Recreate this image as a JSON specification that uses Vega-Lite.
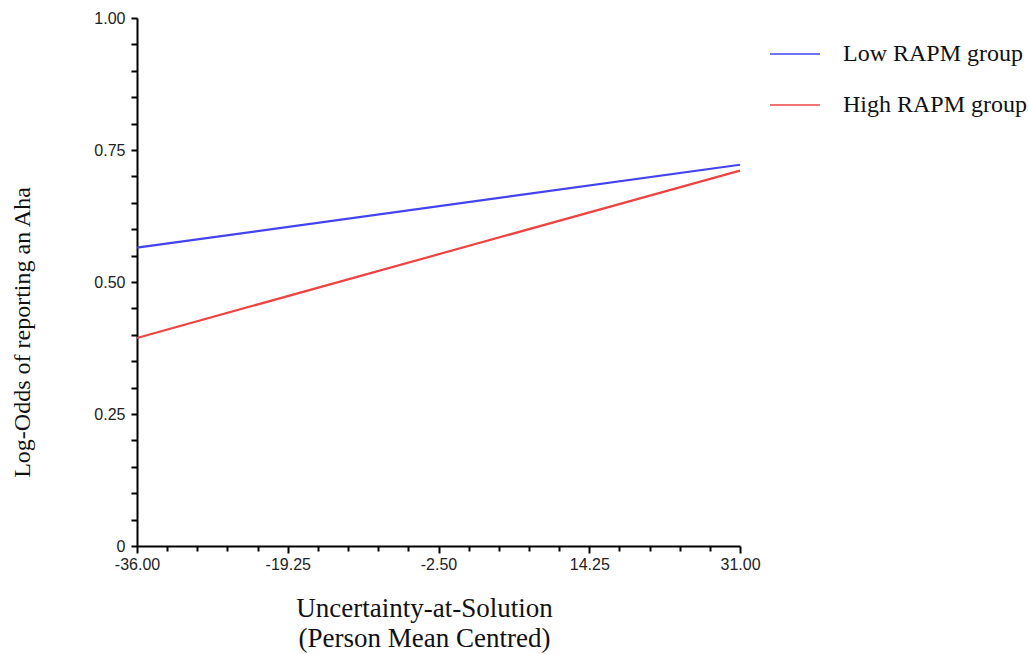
{
  "$schema": "https://vega.github.io/schema/vega-lite/v6.json",
  "autosize": "none",
  "width": 603,
  "height": 528,
  "padding": {"left": 137, "top": 18, "right": 289, "bottom": 108},
  "background": "white",
  "config": {"view": {"stroke": null}},
  "data": {
    "values": [
      {"x": -36, "y": 0.565, "group": "Low RAPM group"},
      {"x": 31, "y": 0.722, "group": "Low RAPM group"},
      {"x": -36, "y": 0.394, "group": "High RAPM group"},
      {"x": 31, "y": 0.711, "group": "High RAPM group"}
    ]
  },
  "mark": {"type": "line", "strokeWidth": 2.2},
  "encoding": {
    "x": {
      "field": "x",
      "type": "quantitative",
      "scale": {"domain": [-36, 31], "nice": false, "zero": false},
      "axis": {
        "values": [-36, -32.65, -29.3, -25.95, -22.6, -19.25, -15.9, -12.55, -9.2, -5.85, -2.5, 0.85, 4.2, 7.55, 10.9, 14.25, 17.6, 20.95, 24.3, 27.65, 31],
        "labelExpr": "abs((datum.value+36)/16.75 - round((datum.value+36)/16.75)) < 0.001 ? replace(format(datum.value, '.2f'), '\u2212', '-') : ''",
        "tickSize": {"condition": {"test": "abs((datum.value+36)/16.75 - round((datum.value+36)/16.75)) < 0.001", "value": 7}, "value": 5},
        "grid": false,
        "domainColor": "black",
        "domainWidth": 2,
        "tickColor": "black",
        "tickWidth": 2,
        "labelFont": "Liberation Sans",
        "labelFontSize": 16,
        "labelColor": "#222",
        "labelPadding": 3,
        "labelFlush": false,
        "labelOverlap": false,
        "title": ["Uncertainty-at-Solution", "(Person Mean Centred)"],
        "titleFont": "Liberation Serif",
        "titleFontSize": 27,
        "titleFontWeight": "normal",
        "titleColor": "#111",
        "titleLineHeight": 30,
        "titleX": 287,
        "titleY": 70,
        "titleAlign": "center",
        "titleBaseline": "alphabetic"
      }
    },
    "y": {
      "field": "y",
      "type": "quantitative",
      "scale": {"domain": [0, 1], "nice": false},
      "axis": {
        "values": [0, 0.05, 0.1, 0.15, 0.2, 0.25, 0.3, 0.35, 0.4, 0.45, 0.5, 0.55, 0.6, 0.65, 0.7, 0.75, 0.8, 0.85, 0.9, 0.95, 1],
        "labelExpr": "abs(datum.value*4 - round(datum.value*4)) < 0.001 ? (datum.value == 0 ? '0' : format(datum.value, '.2f')) : ''",
        "tickSize": 6,
        "grid": false,
        "domainColor": "black",
        "domainWidth": 2,
        "tickColor": "black",
        "tickWidth": 2,
        "labelFont": "Liberation Sans",
        "labelFontSize": 16,
        "labelColor": "#222",
        "labelPadding": 6,
        "labelFlush": false,
        "labelOverlap": false,
        "title": "Log-Odds of reporting an Aha",
        "titleFont": "Liberation Serif",
        "titleFontSize": 24,
        "titleFontWeight": "normal",
        "titleColor": "#111",
        "titleAngle": -90,
        "titleX": -115,
        "titleY": 314,
        "titleAlign": "center",
        "titleBaseline": "middle"
      }
    },
    "color": {
      "field": "group",
      "type": "nominal",
      "scale": {"domain": ["Low RAPM group", "High RAPM group"], "range": ["#4343F0", "#EE4343"]},
      "legend": {
        "title": null,
        "orient": "none",
        "legendX": 632,
        "legendY": 10,
        "symbolType": "stroke",
        "symbolSize": 2500,
        "symbolStrokeWidth": 1.5,
        "labelFont": "Liberation Serif",
        "labelFontSize": 24,
        "labelColor": "#111",
        "labelOffset": 22,
        "rowPadding": 13,
        "labelLimit": 300
      }
    }
  }
}
